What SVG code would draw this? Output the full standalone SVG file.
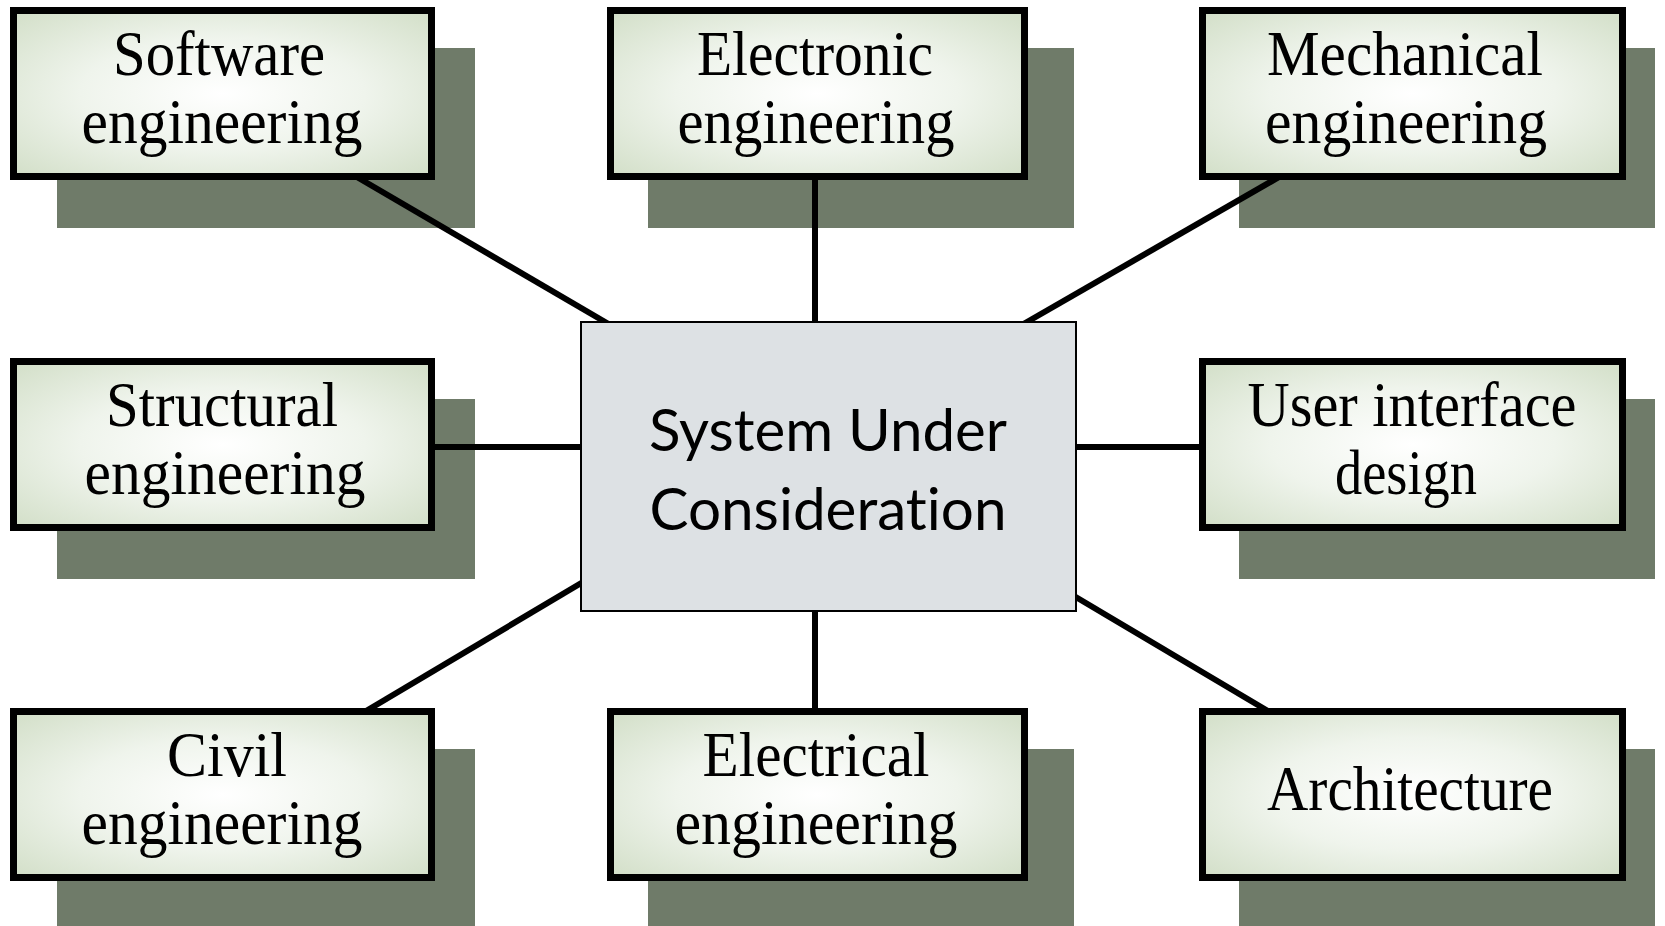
<svg xmlns="http://www.w3.org/2000/svg" width="1665" height="926" viewBox="0 0 1665 926">
  <defs>
    <radialGradient id="boxFill" cx="0.5" cy="0.5" r="0.68">
      <stop offset="0" stop-color="#ffffff"/>
      <stop offset="0.5" stop-color="#eff4ec"/>
      <stop offset="1" stop-color="#d4e0ca"/>
    </radialGradient>
    <style>
      .shadow { fill: #6f7b69; }
      .box { fill: url(#boxFill); stroke: #000; stroke-width: 7; }
      .core { fill: #dde1e4; stroke: #000; stroke-width: 2; }
      .label { font-family: "Liberation Serif", "Times New Roman", serif; font-size: 64px; fill: #000; text-anchor: middle; }
      .core-label { font-family: Lato, "Open Sans", sans-serif; font-size: 58px; fill: #000; text-anchor: middle; font-variant-ligatures: none; }
      .link { stroke: #000; stroke-width: 6; fill: none; }
    </style>
  </defs>

  <rect width="1665" height="926" fill="#ffffff"/>

  <!-- drop shadows behind the discipline boxes -->
  <g id="shadows">
    <rect class="shadow" x="57" y="48" width="418" height="180"/>
    <rect class="shadow" x="648" y="48" width="426" height="180"/>
    <rect class="shadow" x="1239" y="48" width="416" height="180"/>
    <rect class="shadow" x="57" y="399" width="418" height="180"/>
    <rect class="shadow" x="1239" y="399" width="416" height="180"/>
    <rect class="shadow" x="57" y="749" width="418" height="180"/>
    <rect class="shadow" x="648" y="749" width="426" height="180"/>
    <rect class="shadow" x="1239" y="749" width="416" height="180"/>
  </g>

  <!-- spokes from each discipline to the central system -->
  <g id="connectors">
    <line class="link" x1="350" y1="173" x2="612" y2="326"/>
    <line class="link" x1="815" y1="175" x2="815" y2="328"/>
    <line class="link" x1="1286" y1="173" x2="1020" y2="326"/>
    <line class="link" x1="430" y1="447" x2="586" y2="447"/>
    <line class="link" x1="1071" y1="447" x2="1204" y2="447"/>
    <line class="link" x1="361" y1="714" x2="588" y2="579"/>
    <line class="link" x1="815" y1="605" x2="815" y2="713"/>
    <line class="link" x1="1069" y1="593" x2="1273" y2="714"/>
  </g>

  <g id="software">
    <rect class="box" x="13.5" y="10.5" width="418" height="166"/>
    <text class="label" x="219" y="75" textLength="212" lengthAdjust="spacingAndGlyphs">Software</text>
    <text class="label" x="222" y="143" textLength="281" lengthAdjust="spacingAndGlyphs">engineering</text>
  </g>

  <g id="electronic">
    <rect class="box" x="610.5" y="10.5" width="414" height="166"/>
    <text class="label" x="815" y="75" textLength="236" lengthAdjust="spacingAndGlyphs">Electronic</text>
    <text class="label" x="816" y="143" textLength="277" lengthAdjust="spacingAndGlyphs">engineering</text>
  </g>

  <g id="mechanical">
    <rect class="box" x="1202.5" y="10.5" width="420" height="166"/>
    <text class="label" x="1405" y="75" textLength="276" lengthAdjust="spacingAndGlyphs">Mechanical</text>
    <text class="label" x="1406" y="143" textLength="282" lengthAdjust="spacingAndGlyphs">engineering</text>
  </g>

  <g id="structural">
    <rect class="box" x="13.5" y="361.5" width="418" height="166"/>
    <text class="label" x="222" y="426" textLength="232" lengthAdjust="spacingAndGlyphs">Structural</text>
    <text class="label" x="225" y="494" textLength="281" lengthAdjust="spacingAndGlyphs">engineering</text>
  </g>

  <g id="system">
    <rect class="core" x="581" y="322" width="495" height="289"/>
    <text class="core-label" x="828" y="451" textLength="358" lengthAdjust="spacingAndGlyphs">System Under</text>
    <text class="core-label" x="828" y="530" textLength="357" lengthAdjust="spacingAndGlyphs">Consideration</text>
  </g>

  <g id="ui-design">
    <rect class="box" x="1202.5" y="361.5" width="420" height="166"/>
    <text class="label" x="1412" y="426" textLength="329" lengthAdjust="spacingAndGlyphs">User interface</text>
    <text class="label" x="1406" y="494" textLength="142" lengthAdjust="spacingAndGlyphs">design</text>
  </g>

  <g id="civil">
    <rect class="box" x="13.5" y="711.5" width="418" height="166"/>
    <text class="label" x="227" y="776" textLength="120" lengthAdjust="spacingAndGlyphs">Civil</text>
    <text class="label" x="222" y="844" textLength="281" lengthAdjust="spacingAndGlyphs">engineering</text>
  </g>

  <g id="electrical">
    <rect class="box" x="610.5" y="711.5" width="414" height="166"/>
    <text class="label" x="816" y="776" textLength="227" lengthAdjust="spacingAndGlyphs">Electrical</text>
    <text class="label" x="816" y="844" textLength="283" lengthAdjust="spacingAndGlyphs">engineering</text>
  </g>

  <g id="architecture">
    <rect class="box" x="1202.5" y="711.5" width="420" height="166"/>
    <text class="label" x="1410" y="810" textLength="286" lengthAdjust="spacingAndGlyphs">Architecture</text>
  </g>
</svg>
